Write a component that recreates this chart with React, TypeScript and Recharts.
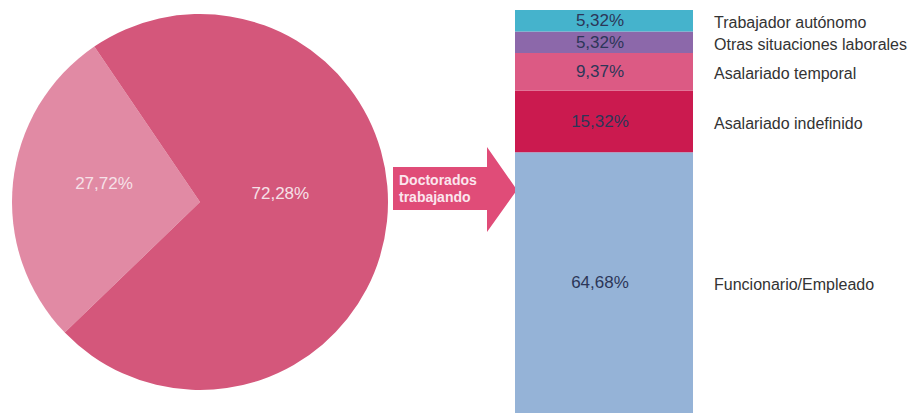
import React from "react";
import { Bar, BarChart, LabelList, Pie, PieChart, XAxis, YAxis, Cell } from "recharts";

// pie: doctorates working vs. not
const pieNames = ["No trabajando", "Doctorados trabajando"];
const pieValues = [27.72, 72.28];
const pieColors = ["#e18aa4", "#d4577b"];

// stacked bar: working situation (bottom to top)
const situations = [
  "Funcionario/Empleado",
  "Asalariado indefinido",
  "Asalariado temporal",
  "Otras situaciones laborales",
  "Trabajador autónomo",
];
const situationValues = [64.68, 15.32, 9.37, 5.32, 5.32];
const situationColors = ["#95b3d7", "#cb1a4f", "#dc5a84", "#8c68aa", "#45b3cc"];

const fmt = (v: number) => `${v.toFixed(2).replace(".", ",")}%`;

const pieData = pieNames.map((name, i) => ({ name, value: pieValues[i] }));

const barRow: Record<string, string | number> = { name: "Doctorados trabajando" };
situations.forEach((s, i) => {
  barRow[s] = situationValues[i];
});
const barData = [barRow];

const RAD = Math.PI / 180;

const renderPieLabel = (props: any) => {
  const { cx, cy, midAngle, outerRadius, index, value } = props;
  const r = outerRadius * (index === 0 ? 0.52 : 0.43);
  const a = midAngle + (index === 0 ? -5 : 12);
  const x = cx + r * Math.cos(-a * RAD);
  const y = cy + r * Math.sin(-a * RAD);
  return (
    <text
      x={x}
      y={y}
      fill="#f6e1e8"
      fontSize={17}
      fontFamily="Liberation Sans, Arial, sans-serif"
      textAnchor="middle"
      dominantBaseline="central"
    >
      {fmt(value)}
    </text>
  );
};

const makeBarLabel = (name: string) => (props: any) => {
  const { x, y, width, height, value } = props;
  const cx = x + width / 2;
  const cy = y + height / 2;
  return (
    <g>
      <text
        x={cx - 4}
        y={cy}
        fill="#2c3658"
        fontSize={17}
        fontFamily="Liberation Sans, Arial, sans-serif"
        textAnchor="middle"
        dominantBaseline="central"
      >
        {fmt(Number(value))}
      </text>
      <text
        x={x + width + 21}
        y={cy + 2}
        fill="#333333"
        fontSize={16}
        fontFamily="Liberation Sans, Arial, sans-serif"
        dominantBaseline="central"
      >
        {name}
      </text>
    </g>
  );
};

export default function App() {
  return (
    <div
      style={{
        position: "fixed",
        left: 0,
        top: 0,
        width: 921,
        height: 414,
        background: "#ffffff",
        overflow: "hidden",
      }}
    >
      {/* Pie */}
      <div style={{ position: "absolute", left: 0, top: 0 }}>
        <PieChart width={400} height={414} margin={{ top: 0, right: 0, bottom: 0, left: 0 }}>
          <Pie
            data={pieData}
            dataKey="value"
            nameKey="name"
            cx={200}
            cy={202}
            outerRadius={188}
            startAngle={224}
            endAngle={-136}
            stroke="none"
            label={renderPieLabel}
            labelLine={false}
            isAnimationActive={false}
          >
            {pieData.map((d, i) => (
              <Cell key={d.name} fill={pieColors[i]} />
            ))}
          </Pie>
        </PieChart>
      </div>

      {/* Arrow */}
      <svg
        width={140}
        height={100}
        style={{ position: "absolute", left: 385, top: 140 }}
      >
        <polygon
          points="8,27 102,27 102,7 132,50 102,92 102,70 8,70"
          fill="#e04c78"
        />
        <text
          x={14}
          y={40}
          fill="#fbe6ee"
          fontSize={14}
          fontWeight="bold"
          fontFamily="Liberation Sans, Arial, sans-serif"
          dominantBaseline="central"
        >
          Doctorados
        </text>
        <text
          x={14}
          y={57}
          fill="#fbe6ee"
          fontSize={14}
          fontWeight="bold"
          fontFamily="Liberation Sans, Arial, sans-serif"
          dominantBaseline="central"
        >
          trabajando
        </text>
      </svg>

      {/* Stacked bar */}
      <div style={{ position: "absolute", left: 515, top: 10 }}>
        <BarChart
          width={406}
          height={403}
          data={barData}
          margin={{ top: 0, right: 228, bottom: 0, left: 0 }}
          barCategoryGap={0}
        >
          <XAxis dataKey="name" hide />
          <YAxis hide domain={[0, 100.01]} allowDataOverflow />
          {situations.map((s, i) => (
            <Bar
              key={s}
              dataKey={s}
              stackId="a"
              fill={situationColors[i]}
              isAnimationActive={false}
            >
              <LabelList dataKey={s} content={makeBarLabel(s)} />
            </Bar>
          ))}
        </BarChart>
      </div>
    </div>
  );
}
